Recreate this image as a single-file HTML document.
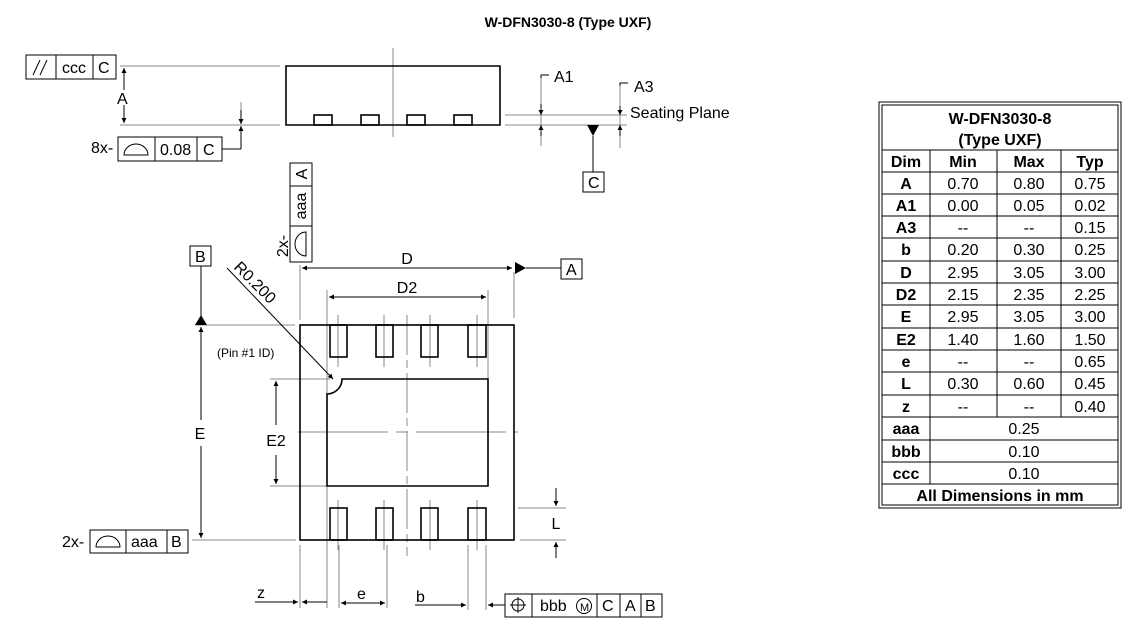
<!DOCTYPE html>
<html><head><meta charset="utf-8"><style>
html,body{margin:0;padding:0;background:#fff;}
svg{display:block;font-family:"Liberation Sans",Arial,sans-serif;}
</style></head><body>
<svg width="1136" height="635" viewBox="0 0 1136 635" xmlns="http://www.w3.org/2000/svg">
<defs>
<marker id="ar" viewBox="0 0 10 10" refX="10" refY="5" markerWidth="7" markerHeight="5" orient="auto-start-reverse" markerUnits="userSpaceOnUse"><path d="M0,0 L10,5 L0,10 z" fill="#000"/></marker>
</defs>
<text x="568" y="27" font-size="14" font-weight="bold" text-anchor="middle">W-DFN3030-8 (Type UXF)</text>

<!-- SIDE VIEW -->
<g stroke="#888" stroke-width="1" fill="none">
<line x1="393" y1="48" x2="393" y2="137"/>
<line x1="120" y1="66" x2="280" y2="66"/>
<line x1="120" y1="125" x2="280" y2="125"/>
<line x1="505" y1="115" x2="627" y2="115"/>
<line x1="505" y1="125" x2="627" y2="125"/>
<line x1="241" y1="102" x2="241" y2="124"/>
<line x1="541" y1="78" x2="541" y2="146"/>
<line x1="620" y1="86" x2="620" y2="148"/>
</g>
<g stroke="#000" stroke-width="1.6" fill="none">
<path d="M286,125 L286,66 L500,66 L500,125 Z"/>
<rect x="314" y="115" width="18" height="10"/><rect x="361" y="115" width="18" height="10"/>
<rect x="407" y="115" width="18" height="10"/><rect x="454" y="115" width="18" height="10"/>
</g>
<g stroke="#000" stroke-width="1" fill="none">
<line x1="124" y1="68" x2="124" y2="90" marker-start="url(#ar)"/>
<line x1="124" y1="105" x2="124" y2="123" marker-end="url(#ar)"/>
<line x1="241" y1="110" x2="241" y2="124" marker-end="url(#ar)"/>
<line x1="241" y1="149" x2="241" y2="126" marker-end="url(#ar)"/>
<polyline points="222,149 241,149"/>
<polyline points="541,78 541,75 549,75"/>
<polyline points="620,86 620,83 628,83"/>
<line x1="541" y1="104" x2="541" y2="115" marker-end="url(#ar)"/>
<line x1="541" y1="136" x2="541" y2="125" marker-end="url(#ar)"/>
<line x1="620" y1="106" x2="620" y2="115" marker-end="url(#ar)"/>
<line x1="620" y1="136" x2="620" y2="125" marker-end="url(#ar)"/>
<line x1="593" y1="136" x2="593" y2="172"/>
<rect x="583" y="172" width="21" height="20"/>
<rect x="26" y="55" width="90" height="24"/><line x1="56" y1="55" x2="56" y2="79"/><line x1="93" y1="55" x2="93" y2="79"/>
<line x1="33" y1="75" x2="40" y2="60"/><line x1="40" y1="75" x2="47" y2="60"/>
<rect x="118" y="137" width="104" height="24"/><line x1="155" y1="137" x2="155" y2="161"/><line x1="197" y1="137" x2="197" y2="161"/>
<path d="M124,155 A12,11 0 0 1 148,155 Z"/>
</g>
<polygon points="587,125 599,125 593,136" fill="#000"/>
<g font-size="16">
<text x="62" y="73">ccc</text><text x="98" y="73">C</text>
<text x="117" y="104">A</text>
<text x="91" y="153">8x-</text><text x="160" y="155">0.08</text><text x="203" y="155">C</text>
<text x="554" y="82">A1</text><text x="634" y="92">A3</text>
<text x="630" y="118">Seating Plane</text>
<text x="588" y="188">C</text>
</g>

<!-- TOP VIEW -->
<g stroke="#888" stroke-width="1" fill="none">
<line x1="407" y1="315" x2="407" y2="556" stroke-dasharray="40,5,8,5"/>
<line x1="298" y1="432" x2="518" y2="432" stroke-dasharray="90,8,12,8"/>
<line x1="300" y1="265" x2="300" y2="320"/>
<line x1="514" y1="272" x2="514" y2="318"/>
<line x1="327" y1="290" x2="327" y2="560"/>
<line x1="488" y1="290" x2="488" y2="380"/>
<line x1="195" y1="325" x2="295" y2="325"/>
<line x1="192" y1="540" x2="296" y2="540"/>
<line x1="270" y1="379" x2="330" y2="379"/>
<line x1="270" y1="486" x2="327" y2="486"/>
<line x1="518" y1="508" x2="566" y2="508"/>
<line x1="520" y1="540" x2="566" y2="540"/>
<line x1="300" y1="545" x2="300" y2="608"/><line x1="327" y1="545" x2="327" y2="608"/>
<line x1="339" y1="545" x2="339" y2="608"/><line x1="387" y1="545" x2="387" y2="608"/>
<line x1="468" y1="545" x2="468" y2="610"/><line x1="486" y1="545" x2="486" y2="610"/>
<line x1="338" y1="315" x2="338" y2="367"/><line x1="384" y1="315" x2="384" y2="367"/>
<line x1="430" y1="315" x2="430" y2="367"/><line x1="477" y1="315" x2="477" y2="367"/>
<line x1="338" y1="500" x2="338" y2="550"/><line x1="384" y1="500" x2="384" y2="550"/>
<line x1="430" y1="500" x2="430" y2="550"/><line x1="477" y1="500" x2="477" y2="550"/>
</g>
<g stroke="#000" stroke-width="1.6" fill="none">
<rect x="300" y="325" width="214" height="215"/>
<rect x="330" y="325" width="17" height="32"/><rect x="376" y="325" width="17" height="32"/>
<rect x="421" y="325" width="17" height="32"/><rect x="468" y="325" width="18" height="32"/>
<rect x="330" y="508" width="17" height="32"/><rect x="376" y="508" width="17" height="32"/>
<rect x="421" y="508" width="17" height="32"/><rect x="468" y="508" width="18" height="32"/>
<path d="M342,379 L488,379 L488,486 L327,486 L327,394 A15,15 0 0 0 342,379 Z"/>
</g>
<g stroke="#000" stroke-width="1" fill="none">
<line x1="302" y1="268" x2="512" y2="268" marker-start="url(#ar)" marker-end="url(#ar)"/>
<line x1="526" y1="268" x2="561" y2="268"/>
<rect x="561" y="259" width="21" height="20"/>
<line x1="329" y1="297" x2="486" y2="297" marker-start="url(#ar)" marker-end="url(#ar)"/>
<rect x="190" y="246" width="21" height="20"/>
<line x1="201" y1="266" x2="201" y2="318"/>
<line x1="201" y1="420" x2="201" y2="327" marker-end="url(#ar)"/>
<line x1="201" y1="446" x2="201" y2="538" marker-end="url(#ar)"/>
<line x1="276" y1="425" x2="276" y2="381" marker-end="url(#ar)"/>
<line x1="276" y1="455" x2="276" y2="484" marker-end="url(#ar)"/>
<line x1="227" y1="268" x2="333" y2="379" marker-end="url(#ar)"/>
<line x1="556" y1="488" x2="556" y2="506" marker-end="url(#ar)"/>
<line x1="556" y1="558" x2="556" y2="542" marker-end="url(#ar)"/>
<rect x="290" y="163" width="22" height="99"/><line x1="290" y1="186" x2="312" y2="186"/><line x1="290" y1="226" x2="312" y2="226"/>
<path d="M306,232 A11,12 0 0 0 306,256 Z"/>
<rect x="90" y="530" width="98" height="23"/><line x1="126" y1="530" x2="126" y2="553"/><line x1="167" y1="530" x2="167" y2="553"/>
<path d="M96,547 A12,11 0 0 1 120,547 Z"/>
<line x1="255" y1="602" x2="298" y2="602" marker-end="url(#ar)"/>
<line x1="327" y1="602" x2="302" y2="602" marker-end="url(#ar)"/>
<line x1="341" y1="603" x2="385" y2="603" marker-start="url(#ar)" marker-end="url(#ar)"/>
<line x1="415" y1="605" x2="466" y2="605" marker-end="url(#ar)"/>
<line x1="505" y1="605" x2="488" y2="605" marker-end="url(#ar)"/>
<rect x="505" y="594" width="157" height="23"/><line x1="532" y1="594" x2="532" y2="617"/><line x1="597" y1="594" x2="597" y2="617"/><line x1="620" y1="594" x2="620" y2="617"/><line x1="641" y1="594" x2="641" y2="617"/>
<circle cx="518" cy="605" r="6"/><line x1="518" y1="597" x2="518" y2="613"/><line x1="510" y1="605" x2="526" y2="605"/>
<circle cx="584" cy="606" r="7.5"/>
</g>
<polygon points="515,262 526,268 515,274" fill="#000"/>
<polygon points="195,325 207,325 201,315" fill="#000"/>
<g font-size="16">
<text x="407" y="264" text-anchor="middle">D</text>
<text x="407" y="293" text-anchor="middle">D2</text>
<text x="566" y="275">A</text>
<text x="195" y="262">B</text>
<text x="200" y="439" text-anchor="middle">E</text>
<text x="276" y="446" text-anchor="middle">E2</text>
<text x="556" y="529" text-anchor="middle">L</text>
<text x="62" y="547">2x-</text><text x="131" y="547">aaa</text><text x="171" y="547">B</text>
<text x="257" y="598">z</text><text x="357" y="599">e</text><text x="416" y="602">b</text>
<text x="540" y="611">bbb</text><text x="580" y="611" font-size="11">M</text>
<text x="602" y="611">C</text><text x="625" y="611">A</text><text x="645" y="611">B</text>
<text transform="translate(307,174) rotate(-90)" text-anchor="middle" x="0" y="0">A</text>
<text transform="translate(306,206) rotate(-90)" text-anchor="middle">aaa</text>
<text transform="translate(288,246) rotate(-90)" text-anchor="middle">2x-</text>
<text transform="translate(233,268) rotate(45)">R0.200</text>
</g>
<text x="217" y="357" font-size="12">(Pin #1 ID)</text>

<!-- TABLE -->
<g stroke="#000" fill="none">
<rect x="879" y="102" width="242" height="406" stroke-width="1"/>
<rect x="882" y="105" width="236" height="400" stroke-width="1"/>
<g stroke-width="1">
<line x1="882" y1="150" x2="1118" y2="150"/>
<line x1="882" y1="172" x2="1118" y2="172"/>
<line x1="882" y1="194" x2="1118" y2="194"/>
<line x1="882" y1="216" x2="1118" y2="216"/>
<line x1="882" y1="238" x2="1118" y2="238"/>
<line x1="882" y1="261" x2="1118" y2="261"/>
<line x1="882" y1="283" x2="1118" y2="283"/>
<line x1="882" y1="305" x2="1118" y2="305"/>
<line x1="882" y1="328" x2="1118" y2="328"/>
<line x1="882" y1="350" x2="1118" y2="350"/>
<line x1="882" y1="372" x2="1118" y2="372"/>
<line x1="882" y1="395" x2="1118" y2="395"/>
<line x1="882" y1="417" x2="1118" y2="417"/>
<line x1="882" y1="440" x2="1118" y2="440"/>
<line x1="882" y1="462" x2="1118" y2="462"/>
<line x1="882" y1="484" x2="1118" y2="484"/>
<line x1="930" y1="150" x2="930" y2="484"/>
<line x1="997" y1="150" x2="997" y2="417"/>
<line x1="1061" y1="150" x2="1061" y2="417"/>
</g>
</g>
<g font-size="16" text-anchor="middle">
<g font-weight="bold">
<text x="1000" y="124">W-DFN3030-8</text><text x="1000" y="145">(Type UXF)</text>
<text x="906" y="167">Dim</text><text x="963" y="167">Min</text><text x="1029" y="167">Max</text><text x="1090" y="167">Typ</text>
<text x="906" y="189">A</text><text x="906" y="211">A1</text><text x="906" y="233">A3</text><text x="906" y="255">b</text>
<text x="906" y="278">D</text><text x="906" y="300">D2</text><text x="906" y="322">E</text><text x="906" y="345">E2</text>
<text x="906" y="367">e</text><text x="906" y="389">L</text><text x="906" y="412">z</text>
<text x="906" y="434">aaa</text><text x="906" y="457">bbb</text><text x="906" y="479">ccc</text>
<text x="1000" y="501">All Dimensions in mm</text>
</g>
<text x="963" y="189">0.70</text><text x="1029" y="189">0.80</text><text x="1090" y="189">0.75</text>
<text x="963" y="211">0.00</text><text x="1029" y="211">0.05</text><text x="1090" y="211">0.02</text>
<text x="963" y="233">--</text><text x="1029" y="233">--</text><text x="1090" y="233">0.15</text>
<text x="963" y="255">0.20</text><text x="1029" y="255">0.30</text><text x="1090" y="255">0.25</text>
<text x="963" y="278">2.95</text><text x="1029" y="278">3.05</text><text x="1090" y="278">3.00</text>
<text x="963" y="300">2.15</text><text x="1029" y="300">2.35</text><text x="1090" y="300">2.25</text>
<text x="963" y="322">2.95</text><text x="1029" y="322">3.05</text><text x="1090" y="322">3.00</text>
<text x="963" y="345">1.40</text><text x="1029" y="345">1.60</text><text x="1090" y="345">1.50</text>
<text x="963" y="367">--</text><text x="1029" y="367">--</text><text x="1090" y="367">0.65</text>
<text x="963" y="389">0.30</text><text x="1029" y="389">0.60</text><text x="1090" y="389">0.45</text>
<text x="963" y="412">--</text><text x="1029" y="412">--</text><text x="1090" y="412">0.40</text>
<text x="1024" y="434">0.25</text><text x="1024" y="457">0.10</text><text x="1024" y="479">0.10</text>
</g>
</svg>
</body></html>
